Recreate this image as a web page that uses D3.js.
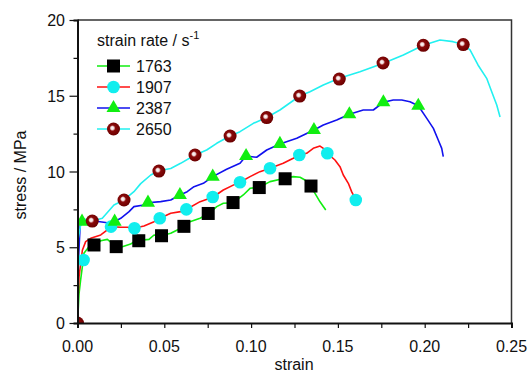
<!DOCTYPE html>
<html>
<head>
<meta charset="utf-8">
<script src="https://cdn.jsdelivr.net/npm/d3@7"></script>
<style>
  body { margin: 0; background: #fff; }
  svg { display: block; font-family: "Liberation Sans", Arial, sans-serif; }
</style>
</head>
<body>
<svg id="chart" width="528" height="373"></svg>
<script>
// strain rates (legend order)
const rates = ['1763', '1907', '2387', '2650'];

// stress-strain curves, [strain, stress MPa]
const curve1763 = [[0,0],[0.0009,1.96],[0.0018,2.84],[0.0028,3.72],[0.0037,4.6],[0.0066,5.04],[0.0099,5.15],[0.0134,5.43],[0.0172,5.52],[0.02,5.26],[0.0258,5.04],[0.0306,5.21],[0.0335,5.43],[0.0412,5.52],[0.0441,5.81],[0.0483,5.76],[0.0537,5.92],[0.0575,6.14],[0.0613,6.36],[0.0648,6.69],[0.0706,6.91],[0.0753,7.19],[0.0802,7.68],[0.084,7.9],[0.0897,7.94],[0.0955,8.45],[0.0994,8.89],[0.1047,8.96],[0.1109,9.33],[0.1195,9.55],[0.1243,9.66],[0.1282,9.62],[0.131,9.44],[0.1343,9.04],[0.1368,8.56],[0.1397,8.0],[0.143,7.46]];
const curve1907 = [[0,0],[0.0003,1.5],[0.0009,3.06],[0.0028,4.8],[0.0047,5.37],[0.0076,5.59],[0.0134,5.81],[0.0172,6.14],[0.0191,6.36],[0.0249,6.32],[0.0287,6.32],[0.0325,6.25],[0.0383,6.4],[0.0441,6.69],[0.0475,6.91],[0.0537,7.24],[0.0594,7.35],[0.0629,7.51],[0.0706,8.01],[0.0779,8.3],[0.084,8.78],[0.0897,9.1],[0.0936,9.29],[0.0994,9.66],[0.1051,9.99],[0.1109,10.21],[0.1185,10.54],[0.1243,10.87],[0.1278,11.09],[0.132,11.2],[0.1358,11.53],[0.1397,11.68],[0.1416,11.53],[0.1439,11.2],[0.1483,10.76],[0.1512,10.32],[0.1531,9.77],[0.156,9.22],[0.1579,8.67],[0.1603,8.12]];
const curve2387 = [[0,0],[0.0005,4.0],[0.0015,6.4],[0.003,6.75],[0.0056,6.8],[0.0172,6.62],[0.0214,6.69],[0.0249,6.91],[0.0297,7.35],[0.0325,7.68],[0.0383,7.79],[0.0406,7.94],[0.0479,8.01],[0.0537,8.12],[0.059,8.45],[0.0632,8.67],[0.0671,9.0],[0.0725,9.22],[0.0779,9.66],[0.0859,10.15],[0.0936,10.54],[0.0971,11.02],[0.1032,10.94],[0.109,11.42],[0.1166,11.82],[0.1263,12.19],[0.1362,12.74],[0.1416,13.07],[0.1493,13.4],[0.1566,13.78],[0.1646,14.06],[0.1704,14.06],[0.1762,14.57],[0.1819,14.72],[0.1868,14.72],[0.1915,14.61],[0.1963,14.34],[0.2012,13.51],[0.205,12.85],[0.2078,12.08],[0.2098,11.53],[0.2107,10.98]];
const curve2650 = [[0,0],[0.0003,5.5],[0.0025,6.9],[0.0085,6.73],[0.0143,6.91],[0.021,7.79],[0.0268,8.12],[0.0325,8.67],[0.0364,9.2],[0.0422,9.77],[0.0469,10.05],[0.0537,10.2],[0.0594,10.54],[0.0677,11.09],[0.0744,11.42],[0.0802,11.86],[0.0878,12.34],[0.0936,12.63],[0.1013,13.18],[0.109,13.56],[0.1166,14.06],[0.1282,15.0],[0.1339,15.27],[0.1416,15.71],[0.1508,16.15],[0.1627,16.59],[0.1762,17.14],[0.1877,17.69],[0.1992,18.33],[0.2088,18.68],[0.2163,18.57],[0.2222,18.38],[0.2261,18.02],[0.2307,17.03],[0.2357,16.15],[0.2386,15.27],[0.2415,14.39],[0.2434,13.6]];

// symbol positions on each curve
const mark1763Strain = [0.0095,0.0223,0.0353,0.0484,0.0613,0.0753,0.0896,0.1047,0.1196,0.1345];
const mark1763Stress = [5.15,5.04,5.43,5.76,6.38,7.23,7.95,8.94,9.52,9.04];
const mark1907Strain = [0.0035,0.0193,0.0328,0.0474,0.0627,0.0779,0.0936,0.1109,0.1278,0.1439,0.1603];
const mark1907Stress = [4.16,6.36,6.25,6.91,7.5,8.32,9.29,10.21,11.09,11.2,8.12];
const mark2387Strain = [0.0026,0.0214,0.0406,0.059,0.0779,0.0971,0.1166,0.1362,0.1566,0.1762,0.1963];
const mark2387Stress = [6.69,6.69,7.94,8.45,9.66,11.02,11.82,12.74,13.78,14.57,14.34];
const mark2650Strain = [0,0.0085,0.0268,0.0469,0.0677,0.0879,0.109,0.128,0.1508,0.176,0.1992,0.2222];
const mark2650Stress = [0,6.73,8.12,10.03,11.09,12.34,13.56,14.98,16.1,17.16,18.33,18.38];

const xTicks = [0, 0.05, 0.10, 0.15, 0.20, 0.25];
const yTicks = [0, 5, 10, 15, 20];

const series = [
  { name: rates[0], curve: curve1763, mx: mark1763Strain, my: mark1763Stress, line: '#11ee11', shape: 'square' },
  { name: rates[1], curve: curve1907, mx: mark1907Strain, my: mark1907Stress, line: '#ff1111', shape: 'circle' },
  { name: rates[2], curve: curve2387, mx: mark2387Strain, my: mark2387Stress, line: '#1111ee', shape: 'triangle' },
  { name: rates[3], curve: curve2650, mx: mark2650Strain, my: mark2650Stress, line: '#22f0f0', shape: 'ball' },
];

const svg = d3.select('#chart');
const plot = { left: 77.5, right: 511.5, top: 20, bottom: 323 };

const x = d3.scaleLinear().domain([0, 0.25]).range([plot.left, plot.right]);
const y = d3.scaleLinear().domain([0, 20]).range([plot.bottom, plot.top]);

const defs = svg.append('defs');
const grad = defs.append('radialGradient')
  .attr('id', 'ball')
  .attr('cx', '45%').attr('cy', '45%').attr('r', '55%')
  .attr('fx', '40%').attr('fy', '42%');
grad.append('stop').attr('offset', '0%').attr('stop-color', '#ffffff');
grad.append('stop').attr('offset', '22%').attr('stop-color', '#f0d8d8');
grad.append('stop').attr('offset', '42%').attr('stop-color', '#8a0a0a');
grad.append('stop').attr('offset', '100%').attr('stop-color', '#6a0000');

defs.append('clipPath').attr('id', 'plotclip')
  .append('rect')
  .attr('x', plot.left).attr('y', plot.top - 10)
  .attr('width', plot.right - plot.left + 10).attr('height', plot.bottom - plot.top + 10);

function drawMarker(g, shape, cx, cy) {
  if (shape === 'square') {
    g.append('rect')
      .attr('x', cx - 6.5).attr('y', cy - 6.5)
      .attr('width', 13).attr('height', 13)
      .attr('fill', '#000');
  } else if (shape === 'circle') {
    g.append('circle')
      .attr('cx', cx).attr('cy', cy).attr('r', 6.3)
      .attr('fill', '#11eeee');
  } else if (shape === 'triangle') {
    g.append('path')
      .attr('d', d3.symbol().type(d3.symbolTriangle).size(85)())
      .attr('transform', `translate(${cx},${cy})`)
      .attr('fill', '#11ee11');
  } else {
    g.append('circle')
      .attr('cx', cx).attr('cy', cy).attr('r', 6.5)
      .attr('fill', 'url(#ball)');
  }
}

// curves and symbols
const lineGen = d3.line().x(d => x(d[0])).y(d => y(d[1]));
const dataG = svg.append('g').attr('clip-path', 'url(#plotclip)');
for (const s of series) {
  dataG.append('path')
    .attr('d', lineGen(s.curve))
    .attr('fill', 'none')
    .attr('stroke', s.line)
    .attr('stroke-width', 1.6)
    .attr('stroke-linejoin', 'round');
}
for (const s of series) {
  s.mx.forEach((v, i) => drawMarker(dataG, s.shape, x(v), y(s.my[i])));
}

// frame (top and right)
svg.append('path')
  .attr('d', `M${plot.left},${plot.top}H${plot.right}V${plot.bottom}`)
  .attr('fill', 'none')
  .attr('stroke', '#333')
  .attr('stroke-width', 1.5);

// axes
const xAxis = d3.axisBottom(x).tickValues(d3.range(0, 0.2501, 0.025)).tickSize(5).tickFormat('');
const xAxisEl = svg.append('g').attr('transform', `translate(0,${plot.bottom})`).call(xAxis);
xAxisEl.select('.domain').attr('stroke', '#111').attr('stroke-width', 2);
xAxisEl.selectAll('.tick line').attr('stroke', '#111').attr('stroke-width', 1.2);

const yAxis = d3.axisLeft(y).tickValues(d3.range(0, 20.01, 2.5)).tickSizeOuter(0).tickFormat('')
  .tickSize(4);
const yAxisEl = svg.append('g').attr('transform', `translate(${plot.left},0)`).call(yAxis);
yAxisEl.select('.domain').attr('stroke', '#111').attr('stroke-width', 2);
yAxisEl.selectAll('.tick line')
  .attr('stroke', '#111').attr('stroke-width', 1.2)
  .attr('x2', d => (d % 5 === 0 ? -8 : -4));

// tick labels
svg.append('g').selectAll('text')
  .data(xTicks)
  .join('text')
  .attr('x', d => x(d))
  .attr('y', 352)
  .attr('text-anchor', 'middle')
  .style('font-size', '16px')
  .attr('fill', '#111')
  .text(d => d.toFixed(2));

svg.append('g').selectAll('text')
  .data(yTicks)
  .join('text')
  .attr('x', 65)
  .attr('y', d => y(d) + 6)
  .attr('text-anchor', 'end')
  .style('font-size', '16px')
  .attr('fill', '#111')
  .text(d => d);

// axis titles
svg.append('text')
  .attr('x', 294)
  .attr('y', 370)
  .attr('text-anchor', 'middle')
  .style('font-size', '16px')
  .attr('fill', '#111')
  .text('strain');

svg.append('text')
  .attr('transform', 'translate(26,175) rotate(-90)')
  .attr('text-anchor', 'middle')
  .style('font-size', '16px')
  .attr('fill', '#111')
  .text('stress / MPa');

// legend
const legend = svg.append('g');
const header = legend.append('text')
  .attr('x', 97)
  .attr('y', 46)
  .style('font-size', '16px')
  .attr('fill', '#111')
  .text('strain rate / s');
header.append('tspan')
  .attr('dy', -7)
  .style('font-size', '11px')
  .text('-1');

const legendRows = [66, 87, 108, 129];
series.forEach((s, i) => {
  const cy = legendRows[i];
  legend.append('line')
    .attr('x1', 97).attr('x2', 130)
    .attr('y1', cy).attr('y2', cy)
    .attr('stroke', s.line)
    .attr('stroke-width', 1.6);
  drawMarker(legend, s.shape, 113.5, cy);
  legend.append('text')
    .attr('x', 136)
    .attr('y', cy + 6)
    .style('font-size', '16px')
    .attr('fill', '#111')
    .text(s.name);
});
</script>
</body>
</html>
